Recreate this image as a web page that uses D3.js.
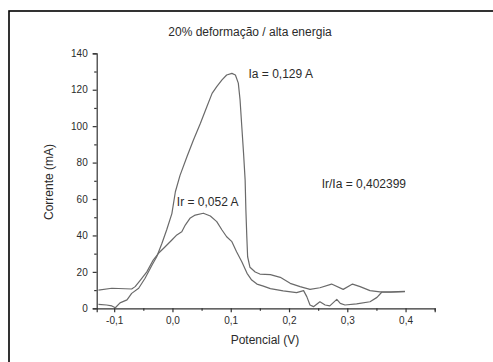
<!DOCTYPE html>
<html>
<head>
<meta charset="utf-8">
<script src="https://cdn.jsdelivr.net/npm/d3@7"></script>
<style>
  body { margin: 0; background: #fff; }
  svg text { font-family: Arial, "Liberation Sans", sans-serif; fill: #2b2b2b; }
</style>
</head>
<body>
<div id="chart"></div>
<script>
// curva anódica (pico Ia)
const potencialA = [-0.127, -0.113, -0.104, -0.098, -0.09, -0.078, -0.07, -0.058, -0.047, -0.035, -0.027, -0.018, -0.010, -0.001,
  0.005, 0.013, 0.025, 0.036, 0.048, 0.059, 0.068, 0.076, 0.085, 0.093, 0.102, 0.108, 0.113, 0.116, 0.119, 0.122, 0.1247,
  0.126, 0.1275, 0.129, 0.133, 0.142, 0.150, 0.168, 0.185, 0.202, 0.219, 0.236, 0.253, 0.273, 0.293, 0.309, 0.322, 0.339,
  0.356, 0.375, 0.399];
const correnteA = [2.2, 1.8, 1.3, 0.3, 3.0, 4.6, 8.2, 11, 16.5, 23.8, 28.3, 35.7, 43, 52,
  64, 73, 83.3, 92.4, 101.6, 110.7, 118, 121.7, 125.4, 128.1, 129, 128.1, 123.6, 114.4, 99.7, 85.1, 70.5,
  54, 40, 28.3, 22.5, 19.9, 18.8, 18.5, 17, 13.7, 11.9, 10.4, 11.3, 13.3, 10.4, 13.3, 11.9, 9.7,
  9, 9, 9.3];

// curva de reativação (pico Ir)
const potencialR = [-0.127, -0.104, -0.07, -0.064, -0.055, -0.044, -0.033, -0.024, -0.0125, -0.001, 0.0075, 0.016, 0.022,
  0.030, 0.039, 0.053, 0.065, 0.076, 0.085, 0.093, 0.102, 0.110, 0.119, 0.128, 0.136, 0.145, 0.156, 0.168, 0.190, 0.213,
  0.225, 0.2305, 0.236, 0.242, 0.253, 0.262, 0.270, 0.282, 0.288, 0.296, 0.316, 0.339, 0.351, 0.359, 0.373, 0.399];
const correnteR = [10, 11, 10.6, 11.9, 15.5, 20, 26.5, 30.2, 33.8, 37.5, 40.3, 42, 45.7,
  49.4, 51.2, 52.2, 50.7, 47.6, 43, 39.3, 36.6, 31.1, 25.6, 19.2, 15.5, 13.3, 12.2, 10.8, 9.6, 8.6,
  9.7, 6.4, 1.8, 0.9, 3.6, 1.8, 1.3, 4.9, 2.7, 1.8, 2.4, 3.6, 6, 8.8, 8.8, 9.1];

const xTicks = [-0.1, 0.0, 0.1, 0.2, 0.3, 0.4];
const xMinor = [-0.05, 0.05, 0.15, 0.25, 0.35, 0.45];
const yTicks = [0, 20, 40, 60, 80, 100, 120, 140];
const yMinor = [10, 30, 50, 70, 90, 110, 130];

const anotacoes = [
  { texto: "Ia = 0,129 A", v: 0.1305, i: 126.7 },
  { texto: "Ir/Ia = 0,402399", v: 0.256, i: 66.3 },
  { texto: "Ir = 0,052 A", v: 0.0075, i: 56.2 }
];

const W = 493, H = 362;
const margin = { top: 53.3, right: 58.3, bottom: 53.7, left: 96.7 },
      width  = W - margin.left - margin.right,
      height = H - margin.top - margin.bottom;

const root = d3.select("#chart").append("svg")
    .attr("width", W)
    .attr("height", H);

// moldura
root.append("rect")
    .attr("x", 9).attr("y", 11)
    .attr("width", 520).attr("height", 400)
    .attr("fill", "none")
    .attr("stroke", "#000")
    .attr("stroke-width", 1.6);

const svg = root.append("g")
    .attr("transform", `translate(${margin.left},${margin.top})`);

const x = d3.scaleLinear().domain([-0.13, 0.45]).range([0, width]);
const y = d3.scaleLinear().domain([0, 140]).range([height, 0]);

const fmt = d => d3.format(".1f")(d).replace(".", ",").replace("\u2212", "-");

// eixos
svg.append("g")
    .attr("transform", `translate(0,${height})`)
    .call(d3.axisBottom(x).tickValues(xTicks).tickFormat(fmt).tickSizeOuter(0).tickSize(4).tickPadding(5));
svg.append("g")
    .attr("transform", `translate(0,${height})`)
    .call(d3.axisBottom(x).tickValues(xMinor).tickFormat("").tickSizeOuter(0).tickSize(2.5))
    .select(".domain").remove();

svg.append("g")
    .call(d3.axisLeft(y).tickValues(yTicks).tickSizeOuter(0).tickSize(4).tickPadding(5));
svg.append("g")
    .call(d3.axisLeft(y).tickValues(yMinor).tickFormat("").tickSizeOuter(0).tickSize(2.5))
    .select(".domain").remove();

svg.selectAll(".domain, .tick line").attr("stroke", "#333").attr("stroke-width", 1.2);
svg.selectAll(".tick text").style("font-size", "10px").style("fill", "#2b2b2b");

// curvas
const line = d3.line().x(d => x(d[0])).y(d => y(d[1]));
const serieA = potencialA.map((v, k) => [v, correnteA[k]]);
const serieR = potencialR.map((v, k) => [v, correnteR[k]]);

[serieA, serieR].forEach(s => {
  svg.append("path")
      .datum(s)
      .attr("fill", "none")
      .attr("stroke", "#6a6a6a")
      .attr("stroke-width", 1.2)
      .attr("stroke-linejoin", "round")
      .attr("d", line);
});

svg.selectAll(".anot")
    .data(anotacoes)
    .enter().append("text")
    .attr("class", "anot")
    .attr("x", d => x(d.v))
    .attr("y", d => y(d.i))
    .style("font-size", "12px")
    .text(d => d.texto);

// títulos
root.append("text")
    .attr("x", 250).attr("y", 36)
    .attr("text-anchor", "middle")
    .style("font-size", "12px")
    .text("20% deformação / alta energia");

root.append("text")
    .attr("x", 265).attr("y", 344)
    .attr("text-anchor", "middle")
    .style("font-size", "12px")
    .text("Potencial (V)");

root.append("text")
    .attr("transform", "translate(53,182) rotate(-90)")
    .attr("text-anchor", "middle")
    .style("font-size", "12px")
    .text("Corrente (mA)");
</script>
</body>
</html>
